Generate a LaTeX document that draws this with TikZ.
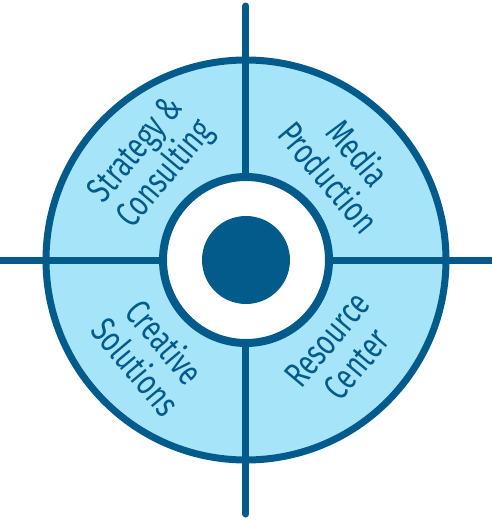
\documentclass[tikz,border=0pt]{standalone}
\usepackage{fontspec}
\setmainfont{Fira Sans}[FakeStretch=0.74]
\definecolor{darkb}{RGB}{3,91,139}
\definecolor{lightb}{RGB}{165,228,249}
\begin{document}
\begin{tikzpicture}[x=1pt,y=1pt,
  axis/.style={draw=darkb,line width=7pt},
  lbl/.style={text=darkb,font=\fontsize{36}{38}\selectfont,align=center,inner sep=0pt}]
\useasboundingbox (-246,-260) rectangle (246,260);
\coordinate (c) at (0,0);
\fill[lightb] (c) circle (200);
\coordinate (top) at (0,254);
\coordinate (bot) at (0,-254);
\coordinate (left) at (-247,0);
\coordinate (right) at (247,0);
\draw[axis,line cap=round] (top) -- (bot);
\draw[axis] (left) -- (right);
\draw[darkb,line width=7pt] (c) circle (200);
\draw[darkb,line width=8pt,fill=white] (c) circle (83);
\fill[darkb] (c) circle (44);
\node[lbl,rotate=50] (sc) at (-94,97) {Strategy \&\\Consulting};
\node[lbl,rotate=-50] (mp) at (98,95) {Media\\Production};
\node[lbl,rotate=-50] (cs) at (-95,-94) {Creative\\Solutions};
\node[lbl,rotate=50] (rc) at (96,-92) {Resource\\Center};
\end{tikzpicture}
\end{document}
